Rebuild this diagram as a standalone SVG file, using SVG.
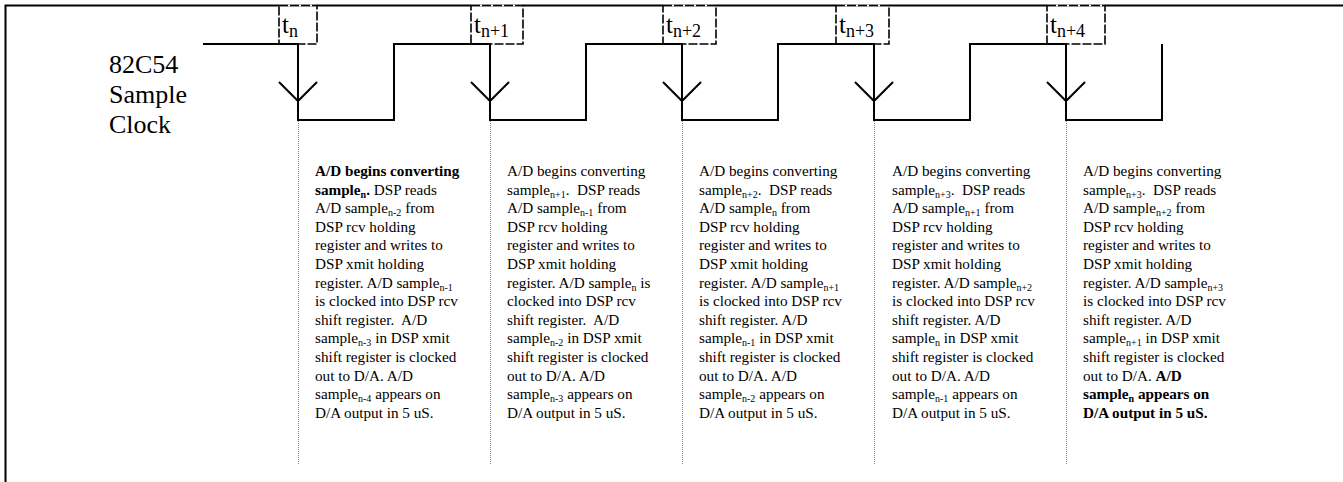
<svg xmlns="http://www.w3.org/2000/svg" width="1343" height="482" viewBox="0 0 1343 482">
<style>
.frame{fill:none;stroke:#000;stroke-width:2}
.wave{fill:none;stroke:#000;stroke-width:2;stroke-linejoin:miter}
.arr{fill:none;stroke:#000;stroke-width:2}
.dot{stroke:#888;stroke-width:1;stroke-dasharray:1 1}
.box{fill:none;stroke:#000;stroke-width:1.6;stroke-dasharray:9 2}
.boxw{stroke:#fff;stroke-width:2.2}
.lbl{font-family:"Liberation Serif","Times New Roman",serif;font-size:26px;fill:#000}
.tt{font-family:"Liberation Serif","Times New Roman",serif;font-size:25px;fill:#000}
.ts{font-size:18px}
.nt{font-family:"Liberation Serif","Times New Roman",serif;font-size:15.2px;fill:#000}
.s{font-size:10px}
.b{font-weight:bold}
</style>
<path class="frame" d="M5.5,482 V5.5 H1343"/>
<g id="label">
<text class="lbl" x="109" y="73">82C54</text>
<text class="lbl" x="109" y="103">Sample</text>
<text class="lbl" x="109" y="133">Clock</text>
</g>
<g id="connectors">
<path class="wave" d="M203,44 H298 V120 H394 V44 H490 V120 H586 V44 H682 V120 H778 V44 H874 V120 H970 V44 H1066 V120 H1162 V44"/>
<polyline class="arr" points="279,82 298,101 317,82"/>
<polyline class="arr" points="471,82 490,101 509,82"/>
<polyline class="arr" points="663,82 682,101 701,82"/>
<polyline class="arr" points="855,82 874,101 893,82"/>
<polyline class="arr" points="1047,82 1066,101 1085,82"/>
<line class="dot" x1="298.5" y1="121" x2="298.5" y2="464"/>
<line class="dot" x1="490.5" y1="121" x2="490.5" y2="464"/>
<line class="dot" x1="682.5" y1="121" x2="682.5" y2="464"/>
<line class="dot" x1="874.5" y1="121" x2="874.5" y2="464"/>
<line class="dot" x1="1066.5" y1="121" x2="1066.5" y2="464"/>
</g>
<g id="tbox-n">
<line class="boxw" x1="279" y1="5.5" x2="317" y2="5.5"/>
<rect class="box" x="279" y="5.5" width="38" height="38.5"/>
<text class="tt" x="282" y="33">t<tspan class="ts" dy="4">n</tspan></text>
</g>
<g id="tbox-n1">
<line class="boxw" x1="471" y1="5.5" x2="523" y2="5.5"/>
<rect class="box" x="471" y="5.5" width="52" height="38.5"/>
<text class="tt" x="474" y="33">t<tspan class="ts" dy="4">n+1</tspan></text>
</g>
<g id="tbox-n2">
<line class="boxw" x1="663" y1="5.5" x2="716" y2="5.5"/>
<rect class="box" x="663" y="5.5" width="53" height="38.5"/>
<text class="tt" x="666" y="33">t<tspan class="ts" dy="4">n+2</tspan></text>
</g>
<g id="tbox-n3">
<line class="boxw" x1="836" y1="5.5" x2="889" y2="5.5"/>
<rect class="box" x="836" y="5.5" width="53" height="38.5"/>
<text class="tt" x="839" y="33">t<tspan class="ts" dy="4">n+3</tspan></text>
</g>
<g id="tbox-n4">
<line class="boxw" x1="1047" y1="5.5" x2="1105" y2="5.5"/>
<rect class="box" x="1047" y="5.5" width="58" height="38.5"/>
<text class="tt" x="1050" y="33">t<tspan class="ts" dy="4">n+4</tspan></text>
</g>
<g id="note-n" class="nt">
<text x="315" y="176" class="b">A/D begins converting</text>
<text x="315" y="194.6"><tspan class="b">sample</tspan><tspan class="b s" dy="3">n</tspan><tspan class="b" dy="-3">.</tspan> DSP reads</text>
<text x="315" y="213.2">A/D sample<tspan class="s" dy="3">n-2</tspan><tspan dy="-3"> from</tspan></text>
<text x="315" y="231.8">DSP rcv holding</text>
<text x="315" y="250.4">register and writes to</text>
<text x="315" y="269">DSP xmit holding</text>
<text x="315" y="287.6">register. A/D sample<tspan class="s" dy="3">n-1</tspan></text>
<text x="315" y="306.2">is clocked into DSP rcv</text>
<text x="315" y="324.8">shift register.&#160; A/D</text>
<text x="315" y="343.4">sample<tspan class="s" dy="3">n-3</tspan><tspan dy="-3"> in DSP xmit</tspan></text>
<text x="315" y="362">shift register is clocked</text>
<text x="315" y="380.6">out to D/A. A/D</text>
<text x="315" y="399.2">sample<tspan class="s" dy="3">n-4</tspan><tspan dy="-3"> appears on</tspan></text>
<text x="315" y="417.8">D/A output in 5 uS.</text>
</g>
<g id="note-n1" class="nt">
<text x="507" y="176">A/D begins converting</text>
<text x="507" y="194.6">sample<tspan class="s" dy="3">n+1</tspan><tspan dy="-3">.&#160; DSP reads</tspan></text>
<text x="507" y="213.2">A/D sample<tspan class="s" dy="3">n-1</tspan><tspan dy="-3"> from</tspan></text>
<text x="507" y="231.8">DSP rcv holding</text>
<text x="507" y="250.4">register and writes to</text>
<text x="507" y="269">DSP xmit holding</text>
<text x="507" y="287.6">register. A/D sample<tspan class="s" dy="3">n</tspan><tspan dy="-3"> is</tspan></text>
<text x="507" y="306.2">clocked into DSP rcv</text>
<text x="507" y="324.8">shift register.&#160; A/D</text>
<text x="507" y="343.4">sample<tspan class="s" dy="3">n-2</tspan><tspan dy="-3"> in DSP xmit</tspan></text>
<text x="507" y="362">shift register is clocked</text>
<text x="507" y="380.6">out to D/A. A/D</text>
<text x="507" y="399.2">sample<tspan class="s" dy="3">n-3</tspan><tspan dy="-3"> appears on</tspan></text>
<text x="507" y="417.8">D/A output in 5 uS.</text>
</g>
<g id="note-n2" class="nt">
<text x="699" y="176">A/D begins converting</text>
<text x="699" y="194.6">sample<tspan class="s" dy="3">n+2</tspan><tspan dy="-3">.&#160; DSP reads</tspan></text>
<text x="699" y="213.2">A/D sample<tspan class="s" dy="3">n</tspan><tspan dy="-3"> from</tspan></text>
<text x="699" y="231.8">DSP rcv holding</text>
<text x="699" y="250.4">register and writes to</text>
<text x="699" y="269">DSP xmit holding</text>
<text x="699" y="287.6">register. A/D sample<tspan class="s" dy="3">n+1</tspan></text>
<text x="699" y="306.2">is clocked into DSP rcv</text>
<text x="699" y="324.8">shift register. A/D</text>
<text x="699" y="343.4">sample<tspan class="s" dy="3">n-1</tspan><tspan dy="-3"> in DSP xmit</tspan></text>
<text x="699" y="362">shift register is clocked</text>
<text x="699" y="380.6">out to D/A. A/D</text>
<text x="699" y="399.2">sample<tspan class="s" dy="3">n-2</tspan><tspan dy="-3"> appears on</tspan></text>
<text x="699" y="417.8">D/A output in 5 uS.</text>
</g>
<g id="note-n3" class="nt">
<text x="892" y="176">A/D begins converting</text>
<text x="892" y="194.6">sample<tspan class="s" dy="3">n+3</tspan><tspan dy="-3">.&#160; DSP reads</tspan></text>
<text x="892" y="213.2">A/D sample<tspan class="s" dy="3">n+1</tspan><tspan dy="-3"> from</tspan></text>
<text x="892" y="231.8">DSP rcv holding</text>
<text x="892" y="250.4">register and writes to</text>
<text x="892" y="269">DSP xmit holding</text>
<text x="892" y="287.6">register. A/D sample<tspan class="s" dy="3">n+2</tspan></text>
<text x="892" y="306.2">is clocked into DSP rcv</text>
<text x="892" y="324.8">shift register. A/D</text>
<text x="892" y="343.4">sample<tspan class="s" dy="3">n</tspan><tspan dy="-3"> in DSP xmit</tspan></text>
<text x="892" y="362">shift register is clocked</text>
<text x="892" y="380.6">out to D/A. A/D</text>
<text x="892" y="399.2">sample<tspan class="s" dy="3">n-1</tspan><tspan dy="-3"> appears on</tspan></text>
<text x="892" y="417.8">D/A output in 5 uS.</text>
</g>
<g id="note-n4" class="nt">
<text x="1083" y="176">A/D begins converting</text>
<text x="1083" y="194.6">sample<tspan class="s" dy="3">n+3</tspan><tspan dy="-3">.&#160; DSP reads</tspan></text>
<text x="1083" y="213.2">A/D sample<tspan class="s" dy="3">n+2</tspan><tspan dy="-3"> from</tspan></text>
<text x="1083" y="231.8">DSP rcv holding</text>
<text x="1083" y="250.4">register and writes to</text>
<text x="1083" y="269">DSP xmit holding</text>
<text x="1083" y="287.6">register. A/D sample<tspan class="s" dy="3">n+3</tspan></text>
<text x="1083" y="306.2">is clocked into DSP rcv</text>
<text x="1083" y="324.8">shift register. A/D</text>
<text x="1083" y="343.4">sample<tspan class="s" dy="3">n+1</tspan><tspan dy="-3"> in DSP xmit</tspan></text>
<text x="1083" y="362">shift register is clocked</text>
<text x="1083" y="380.6">out to D/A. <tspan class="b">A/D</tspan></text>
<text x="1083" y="399.2" class="b">sample<tspan class="s" dy="3">n</tspan><tspan dy="-3"> appears on</tspan></text>
<text x="1083" y="417.8" class="b">D/A output in 5 uS.</text>
</g>
</svg>
